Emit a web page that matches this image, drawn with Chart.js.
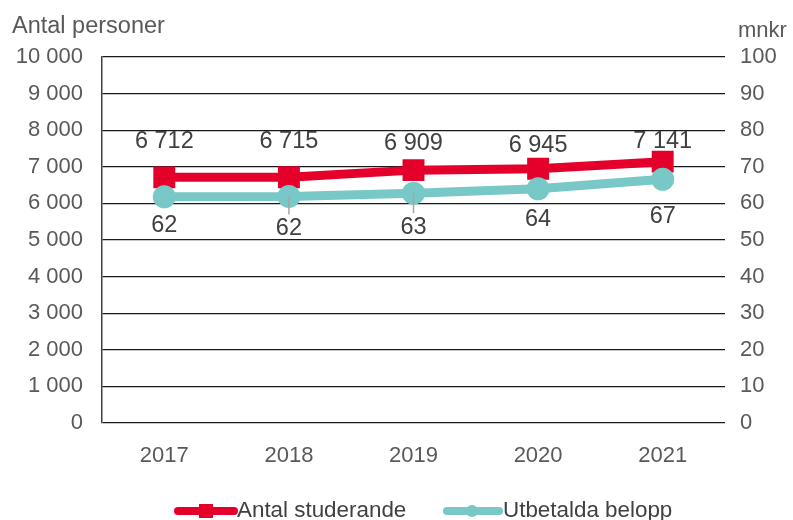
<!DOCTYPE html>
<html>
<head>
<meta charset="utf-8">
<script src="https://cdn.jsdelivr.net/npm/chart.js@4"></script>
<style>
  html, body { margin: 0; padding: 0; background: #fff; }
  #wrap { width: 793px; height: 520px; }
</style>
</head>
<body>
<div id="wrap"><canvas id="chart" width="793" height="520"></canvas></div>
<script>
// data
const years = ['2017', '2018', '2019', '2020', '2021'];
const studerande = [6712, 6715, 6909, 6945, 7141];
const belopp = [61.8, 61.9, 62.8, 64.0, 66.6];
const leftTicks = [0, 1000, 2000, 3000, 4000, 5000, 6000, 7000, 8000, 9000, 10000];
const rightTicks = [0, 10, 20, 30, 40, 50, 60, 70, 80, 90, 100];

// hand placed value labels (pixel offset from the point)
const redLabelOffset = [-36, -36, -27, -23, -20];
const tealLabelOffset = [29, 32, 34, 31, 37];
const tealLeader = [false, true, true, false, false];

const RED = '#E4002B';
const TEAL = '#78C8C8';
const FONT = "'Liberation Sans', Arial, sans-serif";

const fmt = v => String(v).replace(/\B(?=(\d{3})+(?!\d))/g, ' ');

// labels over/under the points, axis titles and legend
const extras = {
  id: 'extras',
  afterDatasetsDraw(chart) {
    const ctx = chart.ctx;
    ctx.save();
    ctx.font = '23.5px ' + FONT;
    ctx.fillStyle = '#404040';
    ctx.textAlign = 'center';
    ctx.textBaseline = 'middle';
    chart.getDatasetMeta(0).data.forEach((p, i) => {
      ctx.fillText(fmt(studerande[i]), p.x, p.y + redLabelOffset[i]);
    });
    chart.getDatasetMeta(1).data.forEach((p, i) => {
      if (tealLeader[i]) {
        ctx.strokeStyle = '#a6a6a6';
        ctx.lineWidth = 1.5;
        ctx.beginPath(); ctx.moveTo(p.x, p.y); ctx.lineTo(p.x, p.y + tealLabelOffset[i] - 14); ctx.stroke();
      }
      ctx.fillText(String(Math.round(belopp[i])), p.x, p.y + tealLabelOffset[i]);
    });

    ctx.fillStyle = '#595959';
    ctx.textAlign = 'left';
    ctx.font = '23.5px ' + FONT;
    ctx.fillText('Antal personer', 12, 27);
    ctx.font = '22px ' + FONT;
    ctx.fillText('mnkr', 738, 31);

    // legend
    const ly = 511;
    ctx.lineCap = 'round';
    ctx.lineWidth = 8;
    ctx.strokeStyle = RED;
    ctx.beginPath(); ctx.moveTo(178, ly); ctx.lineTo(234, ly); ctx.stroke();
    ctx.fillStyle = RED;
    ctx.fillRect(199, ly - 7, 14, 14);
    ctx.strokeStyle = TEAL;
    ctx.beginPath(); ctx.moveTo(447, ly); ctx.lineTo(499, ly); ctx.stroke();
    ctx.fillStyle = TEAL;
    ctx.beginPath(); ctx.arc(472, ly, 6, 0, Math.PI * 2); ctx.fill();
    ctx.fillStyle = '#404040';
    ctx.font = '22.4px ' + FONT;
    ctx.fillText('Antal studerande', 237, ly);
    ctx.fillText('Utbetalda belopp', 503, ly);
    ctx.restore();
  }
};

new Chart(document.getElementById('chart'), {
  type: 'line',
  data: {
    labels: years,
    datasets: [{
      label: 'Antal studerande',
      data: studerande,
      yAxisID: 'y',
      borderColor: RED,
      backgroundColor: RED,
      borderWidth: 9,
      pointStyle: 'rect',
      pointRadius: 15.5,
      pointHoverRadius: 15.5,
      pointBorderWidth: 0,
      order: 1
    }, {
      label: 'Utbetalda belopp',
      data: belopp,
      yAxisID: 'y2',
      borderColor: TEAL,
      backgroundColor: TEAL,
      borderWidth: 9,
      pointStyle: 'circle',
      pointRadius: 11.5,
      pointHoverRadius: 11.5,
      pointBorderWidth: 0,
      order: 0
    }]
  },
  options: {
    responsive: false,
    animation: false,
    layout: { padding: { top: 57, left: 0, right: 0, bottom: 0 } },
    plugins: {
      legend: { display: false },
      tooltip: { enabled: false }
    },
    scales: {
      x: {
        offset: true,
        grid: { display: false },
        border: { display: false },
        ticks: { color: '#595959', font: { family: FONT, size: 22 }, padding: 12 },
        afterFit: s => { s.height = 97; }
      },
      y: {
        position: 'left',
        min: 0,
        max: 10000,
        afterBuildTicks: s => { s.ticks = leftTicks.map(v => ({ value: v })); },
        grid: { color: '#1a1a1a', lineWidth: 1.2, drawTicks: false },
        border: { display: true, color: '#404040', width: 1.5 },
        ticks: { color: '#595959', font: { family: FONT, size: 22 }, padding: 19, callback: v => fmt(v) },
        afterFit: s => { s.width = 102; }
      },
      y2: {
        position: 'right',
        min: 0,
        max: 100,
        afterBuildTicks: s => { s.ticks = rightTicks.map(v => ({ value: v })); },
        grid: { drawOnChartArea: false, drawTicks: false },
        border: { display: false },
        ticks: { color: '#595959', font: { family: FONT, size: 22 }, padding: 15 },
        afterFit: s => { s.width = 68; }
      }
    }
  },
  plugins: [extras]
});
</script>
</body>
</html>
